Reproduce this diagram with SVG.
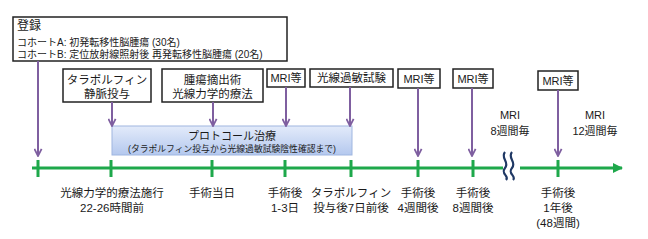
<svg xmlns="http://www.w3.org/2000/svg" width="648" height="239" viewBox="0 0 648 239">
<defs>
<style>
text{font-family:"Liberation Sans","Noto Sans CJK JP",sans-serif;fill:#1a1a1a;text-anchor:middle}
.box{fill:#fff;stroke:#222;stroke-width:1.5}
.t{font-size:11.5px}
.s{font-size:10px;text-anchor:start}
.arr{stroke:#7f5fa0;stroke-width:2;fill:none;marker-end:url(#pa)}
.tl{stroke:#1ea84b;stroke-width:3;fill:none}
.wv{stroke:#1f3864;stroke-width:2.2;fill:none}
</style>
<marker id="pa" viewBox="0 0 10 10" refX="9" refY="5" markerWidth="9" markerHeight="9" markerUnits="userSpaceOnUse" orient="auto">
<path d="M1,1 L9,5 L1,9" fill="none" stroke="#7f5fa0" stroke-width="2"/>
</marker>
<marker id="ga" viewBox="0 0 10 10" refX="9" refY="5" markerWidth="10" markerHeight="10" markerUnits="userSpaceOnUse" orient="auto">
<path d="M0,0 L10,5 L0,10 z" fill="#1ea84b"/>
</marker>
<linearGradient id="pg" x1="0" y1="0" x2="0" y2="1">
<stop offset="0" stop-color="#e3ebfa"/>
<stop offset="1" stop-color="#b4c8ee"/>
</linearGradient>
</defs>

<g id="timeline">
<path class="tl" d="M32,168 H503"/>
<path class="tl" d="M520,168 H622" marker-end="url(#ga)"/>
<path class="tl" d="M38,160 V177 M111,160 V177 M212,160 V177 M285,160 V177 M351,160 V177 M418,160 V177 M473,160 V177 M558,160 V177"/>
<path class="wv" d="M505,152 C500,158 510,162 505,168 C500,174 510,176 506,180"/>
<path class="wv" d="M512,152 C507,158 517,162 512,168 C507,174 517,176 513,180"/>
</g>

<g id="registration">
<rect class="box" x="13" y="17" width="274" height="44"/>
<text x="17" y="30" class="s" style="font-size:12px">登録</text>
<text x="17" y="46" class="s">コホートA: 初発転移性脳腫瘍 (30名)</text>
<text x="17" y="58" class="s">コホートB: 定位放射線照射後 再発転移性脳腫瘍 (20名)</text>
</g>

<g id="protocol">
<rect x="112" y="126" width="240" height="29" fill="url(#pg)" stroke="#9fb6e0" stroke-width="1"/>
<text x="232" y="140" style="font-size:11px">プロトコール治療</text>
<text x="232" y="152" style="font-size:8.8px">(タラポルフィン投与から光線過敏試験陰性確認まで)</text>
</g>

<g id="n-talaporfin">
<rect class="box" x="63" y="69" width="88" height="33"/>
<text x="107" y="84" class="t">タラポルフィン</text>
<text x="107" y="98" class="t">静脈投与</text>
</g>
<g id="n-surgery">
<rect class="box" x="162" y="69" width="101" height="33"/>
<text x="212.5" y="84" class="t">腫瘍摘出術</text>
<text x="212.5" y="98" class="t">光線力学的療法</text>
</g>
<g id="n-mri1">
<rect class="box" x="267" y="69" width="38" height="18"/>
<text x="286" y="82" class="t" style="font-size:11px">MRI等</text>
</g>
<g id="n-photo">
<rect class="box" x="310" y="69" width="83" height="18"/>
<text x="351.5" y="82" class="t">光線過敏試験</text>
</g>
<g id="n-mri2">
<rect class="box" x="398" y="69" width="42" height="19"/>
<text x="419" y="82.5" class="t" style="font-size:11px">MRI等</text>
</g>
<g id="n-mri3">
<rect class="box" x="453" y="69" width="40" height="19"/>
<text x="473" y="82.5" class="t" style="font-size:11px">MRI等</text>
</g>
<g id="n-mri4">
<rect class="box" x="538" y="71" width="40" height="19"/>
<text x="558" y="84.5" class="t" style="font-size:11px">MRI等</text>
</g>

<g id="connectors">
<path class="arr" d="M38,61 V156"/>
<path class="arr" d="M112,102 V126"/>
<path class="arr" d="M213,102 V126"/>
<path class="arr" d="M286,87 V126"/>
<path class="arr" d="M350,87 V126"/>
<path class="arr" d="M418,88 V156"/>
<path class="arr" d="M472,88 V156"/>
<path class="arr" d="M558,90 V156"/>
</g>

<g id="labels">
<text x="510" y="119" class="t" style="font-size:11px">MRI</text>
<text x="510" y="135" class="t" style="font-size:11px">8週間毎</text>
<text x="595" y="119" class="t" style="font-size:11px">MRI</text>
<text x="595" y="135" class="t" style="font-size:11px">12週間毎</text>

<text x="112" y="197" class="t">光線力学的療法施行</text>
<text x="112" y="212" class="t">22-26時間前</text>
<text x="212" y="197" class="t">手術当日</text>
<text x="285" y="197" class="t">手術後</text>
<text x="285" y="212" class="t">1-3日</text>
<text x="351" y="197" class="t">タラポルフィン</text>
<text x="351" y="212" class="t">投与後7日前後</text>
<text x="418" y="197" class="t">手術後</text>
<text x="418" y="212" class="t">4週間後</text>
<text x="473" y="197" class="t">手術後</text>
<text x="473" y="212" class="t">8週間後</text>
<text x="558" y="197" class="t">手術後</text>
<text x="558" y="212" class="t">1年後</text>
<text x="558" y="227" class="t">(48週間)</text>
</g>
</svg>
